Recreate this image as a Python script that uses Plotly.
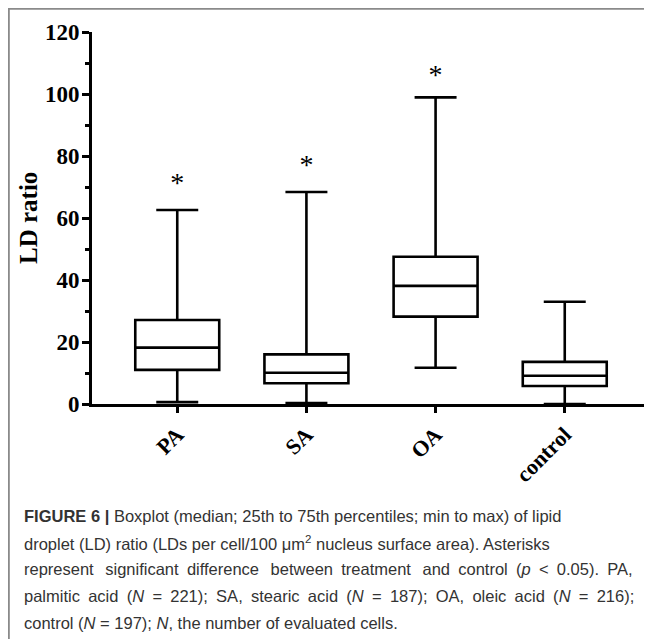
import plotly.graph_objects as go

categories = ["PA", "SA", "OA", "control"]
q_min = [0.6, 0.3, 11.7, 0.0]
q1 = [11.0, 6.7, 28.2, 5.8]
median = [18.2, 10.1, 38.1, 9.1]
q3 = [27.1, 16.0, 47.5, 13.6]
q_max = [62.6, 68.4, 98.9, 33.0]
star_cats = ["PA", "SA", "OA"]
star_y = [70.8, 76.5, 105.5]
y_ticks = [0, 20, 40, 60, 80, 100, 120]

EN = "\u2002"
EN_T = "\u2002\u2009"
caption_lines = [
    "<b>FIGURE 6 |</b> Boxplot (median; 25th to 75th percentiles; min to max) of lipid",
    "droplet (LD) ratio (LDs per cell/100 μm<sup>2</sup> nucleus surface area). Asterisks",
    ("represent" + EN_T + "significant" + EN + "difference" + EN_T + "between" + EN
     + "treatment" + EN_T + "and" + EN + "control" + EN + "(<i>p</i>" + EN + "&lt;" + EN
     + "0.05)." + EN + "PA,"),
    EN.join(["palmitic", "acid", "(<i>N</i>", "=", "221);", "SA,", "stearic", "acid",
             "(<i>N</i>", "=", "187);", "OA,", "oleic", "acid", "(<i>N</i>", "=", "216);"]),
    "control (<i>N</i> = 197); <i>N</i>, the number of evaluated cells.",
]

OFF = 8  # page body margin
W, H = 652 - OFF, 639 - OFF
L, R, T, B = 92 - OFF, 2, 32 - OFF, H - (404 - OFF)
pw = W - L - R
ph = H - T - B

def px_x(x):  # page pixel -> paper
    return (x - OFF - L) / pw

def px_y(y):
    return (H - B - (y - OFF)) / ph

fig = go.Figure()
fig.add_trace(go.Box(
    x=categories, q1=q1, median=median, q3=q3,
    lowerfence=q_min, upperfence=q_max,
    fillcolor="white", line=dict(color="black", width=2.6),
    whiskerwidth=0.5, width=0.65, boxpoints=False, hoverinfo="skip",
    showlegend=False,
))
fig.add_trace(go.Scatter(
    x=star_cats, y=star_y, mode="text", text=["*"] * len(star_cats),
    textposition="middle center",
    textfont=dict(family="Liberation Serif", size=28, color="black"),
    showlegend=False, hoverinfo="skip",
))

serif = "Liberation Serif"
fig.update_layout(
    width=W, height=H,
    margin=dict(l=L, r=R, t=T, b=B, pad=0),
    paper_bgcolor="white", plot_bgcolor="white",
    xaxis=dict(
        type="category", categoryorder="array", categoryarray=categories,
        range=[-0.66, 3.66], showgrid=False, zeroline=False,
        showline=True, linecolor="black", linewidth=3,
        ticks="outside", ticklen=6, tickwidth=3, tickcolor="black",
        tickangle=-45,
        tickfont=dict(family=serif, size=22, color="black", weight="bold"),
    ),
    yaxis=dict(
        range=[0, 120], tickvals=y_ticks, showgrid=False, zeroline=False,
        showline=True, linecolor="black", linewidth=3,
        ticks="outside", ticklen=7, tickwidth=2.5, tickcolor="black",
        ticklabelstandoff=-2,
        tickfont=dict(family=serif, size=23, color="black", weight="bold"),
        minor=dict(dtick=10, ticks="outside", ticklen=4, tickwidth=2.5, tickcolor="black"),
    ),
)

annotations = [dict(
    text="<b>LD ratio</b>", x=px_x(28), y=0.5, xref="paper", yref="paper",
    textangle=-90, showarrow=False, xanchor="center", yanchor="middle",
    font=dict(family=serif, size=25, color="black"),
)]
line_y = [516, 542.5, 569, 596, 622.5]
for txt, yy in zip(caption_lines, line_y):
    annotations.append(dict(
        text=txt, x=px_x(22), y=px_y(yy), xref="paper", yref="paper",
        showarrow=False, xanchor="left", yanchor="middle", align="left",
        font=dict(family="Liberation Sans", size=16.5, color="#333333"),
    ))
fig.update_layout(annotations=annotations)

fig.add_shape(type="line", xref="paper", yref="paper",
              x0=px_x(8), x1=px_x(652), y0=px_y(8.8), y1=px_y(8.8),
              line=dict(color="#8a8a8a", width=2))
fig.add_shape(type="line", xref="paper", yref="paper",
              x0=px_x(8.8), x1=px_x(8.8), y0=px_y(8), y1=px_y(639),
              line=dict(color="#8a8a8a", width=2))

fig.write_html("out.html")
